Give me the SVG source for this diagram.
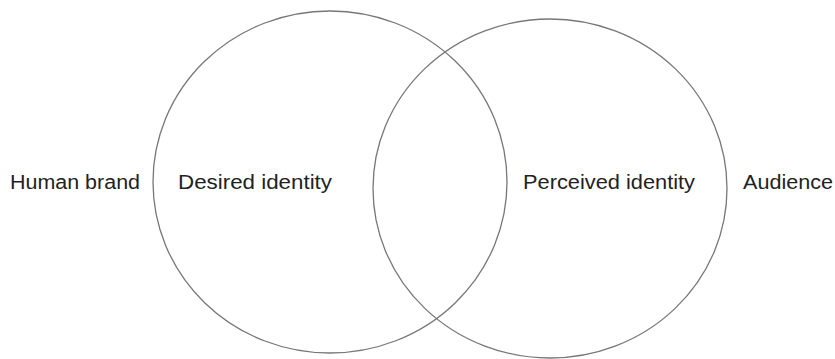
<svg xmlns="http://www.w3.org/2000/svg" width="835" height="359" viewBox="0 0 835 359">
<style>
.c{fill:none;stroke:#777;stroke-width:1.3}
.t{font-family:"Liberation Sans",Arial,sans-serif;font-size:20px;fill:#222}
</style>
<rect width="835" height="359" fill="#fff"/>
<g id="desired">
<ellipse class="c" cx="330" cy="182" rx="177" ry="171"/>
<text class="t" x="178" y="189" textLength="154" lengthAdjust="spacingAndGlyphs">Desired identity</text>
</g>
<g id="perceived">
<ellipse class="c" cx="550" cy="188.5" rx="177" ry="169.5"/>
<text class="t" x="523" y="189" textLength="172" lengthAdjust="spacingAndGlyphs">Perceived identity</text>
</g>
<g id="human-brand">
<text class="t" x="10" y="189" textLength="130" lengthAdjust="spacingAndGlyphs">Human brand</text>
</g>
<g id="audience">
<text class="t" x="743" y="189" textLength="90" lengthAdjust="spacingAndGlyphs">Audience</text>
</g>
<g id="connectors"></g>
</svg>
